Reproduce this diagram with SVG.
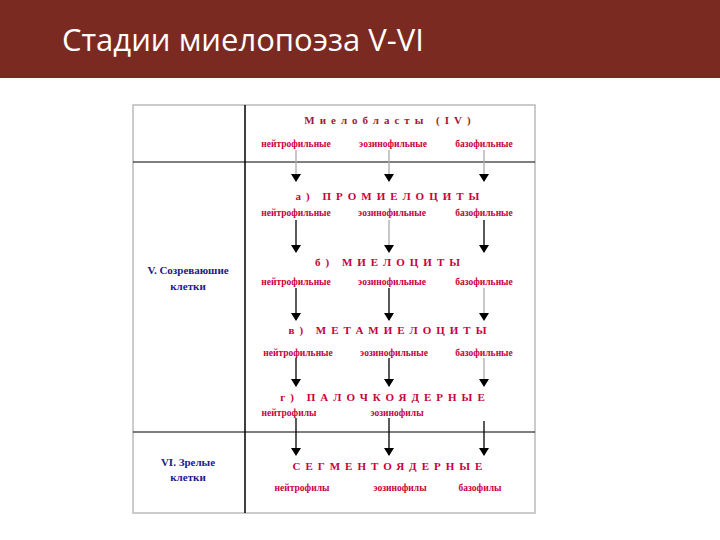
<svg xmlns="http://www.w3.org/2000/svg" width="720" height="540" viewBox="0 0 720 540">
<defs>
<marker id="ah" markerWidth="8" markerHeight="10" refX="7" refY="5" orient="auto" markerUnits="userSpaceOnUse"><path d="M0,0 L8,5 L0,10 Z" fill="#000"/></marker>
<style>
.t{font-family:"Liberation Serif",serif;font-weight:bold;text-anchor:middle}
.h{font-size:11px;fill:#C8003C;letter-spacing:5px}
.s{font-size:9.5px;fill:#C8003C}
.l{font-size:11px;fill:#1a1a8c}
.a{stroke:#000;stroke-width:1.3;marker-end:url(#ah)}
.g{stroke:#aaa}
</style>
</defs>
<rect width="720" height="540" fill="#fff"/>
<rect width="720" height="78" fill="#7B2A22"/>
<text x="62" y="51" font-family="'Open Sans','Noto Sans',sans-serif" font-size="31" fill="#fff">Стадии миелопоэза V-VI</text>
<g id="table" fill="none">
<rect x="133" y="105" width="402" height="408" stroke="#bbb" stroke-width="1.5"/>
<line x1="245" y1="105" x2="245" y2="513" stroke="#000" stroke-width="1.5"/>
<line x1="133" y1="162" x2="535" y2="162" stroke="#000" stroke-width="1.2"/>
<line x1="133" y1="432" x2="535" y2="432" stroke="#000" stroke-width="1.2"/>
</g>
<g id="left-labels" class="t l">
<text x="188" y="274">V. Созреваюшие</text><text x="188" y="290">клетки</text>
<text x="188" y="466">VI. Зрелые</text><text x="188" y="481">клетки</text>
</g>
<g id="connectors">
<line class="a g" x1="296" y1="150" x2="296" y2="181"/>
<line class="a g" x1="389" y1="150" x2="389" y2="181"/>
<line class="a g" x1="484" y1="150" x2="484" y2="181"/>
<line class="a" x1="296" y1="220" x2="296" y2="252"/>
<line class="a g" x1="389" y1="220" x2="389" y2="252"/>
<line class="a" x1="484" y1="220" x2="484" y2="252"/>
<line class="a" x1="296" y1="288" x2="296" y2="320"/>
<line class="a" x1="389" y1="288" x2="389" y2="320"/>
<line class="a g" x1="484" y1="288" x2="484" y2="320"/>
<line class="a" x1="296" y1="358" x2="296" y2="386"/>
<line class="a" x1="389" y1="358" x2="389" y2="386"/>
<line class="a g" x1="484" y1="358" x2="484" y2="386"/>
<line class="a" x1="296" y1="418" x2="296" y2="455"/>
<line class="a" x1="389" y1="418" x2="389" y2="455"/>
<line class="a" x1="484" y1="421" x2="484" y2="455"/>
</g>
<g id="myeloblasts" class="t">
<text class="h" x="390" y="124" fill="#8B1A1A" style="fill:#9B1B30">Миелобласты (IV)</text>
<text class="s" x="296" y="147">нейтрофильные</text><text class="s" x="393" y="147">эозинофильные</text><text class="s" x="484" y="147">базофильные</text>
</g>
<g id="promyelocytes" class="t">
<text class="h" x="390" y="200">а) ПРОМИЕЛОЦИТЫ</text>
<text class="s" x="296" y="216">нейтрофильные</text><text class="s" x="392" y="216">эозинофильные</text><text class="s" x="484" y="216">базофильные</text>
</g>
<g id="myelocytes" class="t">
<text class="h" x="390" y="266">б) МИЕЛОЦИТЫ</text>
<text class="s" x="296" y="285">нейтрофильные</text><text class="s" x="392" y="285">эозинофильные</text><text class="s" x="484" y="285">базофильные</text>
</g>
<g id="metamyelocytes" class="t">
<text class="h" x="390" y="334">в) МЕТАМИЕЛОЦИТЫ</text>
<text class="s" x="298" y="356">нейтрофильные</text><text class="s" x="394" y="356">эозинофильные</text><text class="s" x="484" y="356">базофильные</text>
</g>
<g id="band" class="t">
<text class="h" x="385" y="401">г) ПАЛОЧКОЯДЕРНЫЕ</text>
<text class="s" x="289" y="416">нейтрофилы</text><text class="s" x="397" y="416">эозинофилы</text>
</g>
<g id="segmented" class="t">
<text class="h" x="390" y="470">СЕГМЕНТОЯДЕРНЫЕ</text>
<text class="s" x="302" y="491">нейтрофилы</text><text class="s" x="400" y="491">эозинофилы</text><text class="s" x="480" y="491">базофилы</text>
</g>
</svg>
